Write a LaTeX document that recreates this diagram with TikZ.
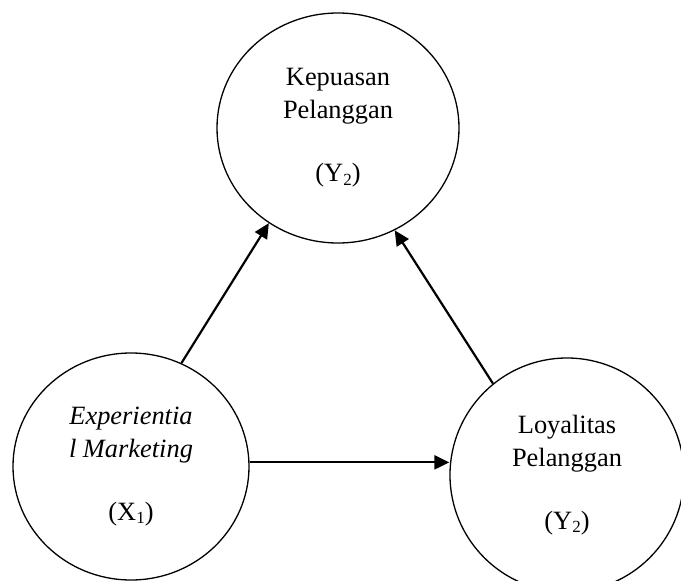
\documentclass[tikz,border=0pt]{standalone}
\usepackage{fontspec}
\setmainfont{Liberation Serif}
\usetikzlibrary{shapes.geometric,arrows.meta}
\newcommand{\lowidx}[1]{\raisebox{-0.12em}{\fontsize{17}{17}\selectfont #1}}
\tikzset{
  var/.style={draw, ellipse, line width=1.3pt, inner sep=0pt,
    minimum width=236pt, minimum height=230pt, align=center,
    font=\fontsize{26.4}{33}\selectfont},
  link/.style={line width=2.2pt, -{Triangle[length=15pt,width=14pt]}}
}
\begin{document}
\begin{tikzpicture}[x=1pt,y=-1pt]
      \useasboundingbox (0,0) rectangle (681,581);
      \draw
        (338,128) node[var, minimum width=242pt] (kp){Kepuasan\\Pelanggan\\[30pt](Y\lowidx{2})}
        (131,466.5) node[var, minimum height=227pt] (xm){\textit{Experientia}\\\textit{l Marketing}\\[30pt](X\lowidx{1})}
        (567,475) node[var, minimum width=234pt, minimum height=234pt] (lp){Loyalitas\\Pelanggan\\[30pt](Y\lowidx{2})};
      \begin{scope}[link]
        \draw (xm.64) to (kp.234);
        \draw (lp.129.5) to (kp.299.5);
        \draw (xm.2) to (xm.2 -| lp.west);
      \end{scope}
    \end{tikzpicture}
\end{document}
